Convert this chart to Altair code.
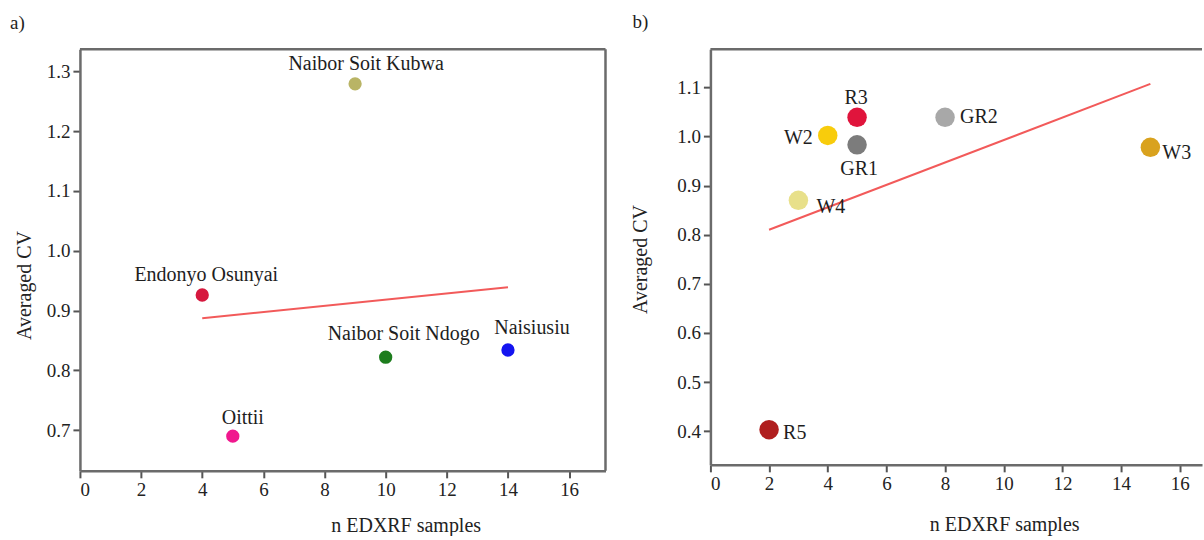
import altair as alt
import pandas as pd

# ---------------- data ----------------
sites_a = ["Naibor Soit Kubwa", "Endonyo Osunyai", "Naibor Soit Ndogo", "Naisiusiu", "Oittii"]
n_a = [9, 4, 10, 14, 5]
cv_a = [1.279, 0.926, 0.822, 0.834, 0.690]
trend_a_n = [4, 14]
trend_a_cv = [0.887, 0.939]

sites_b = ["R3", "W2", "GR1", "GR2", "W3", "W4", "R5"]
n_b = [5, 4, 5, 8, 15, 3, 2]
cv_b = [1.039, 1.002, 0.983, 1.039, 0.978, 0.870, 0.403]
trend_b_n = [2, 15]
trend_b_cv = [0.810, 1.107]

x_ticks = [0, 2, 4, 6, 8, 10, 12, 14, 16]
y_ticks_a = [0.7, 0.8, 0.9, 1.0, 1.1, 1.2, 1.3]
y_ticks_b = [0.4, 0.5, 0.6, 0.7, 0.8, 0.9, 1.0, 1.1]

# ---------------- styles ----------------
colors_a = ["#b9b465", "#d6183e", "#1d7d1d", "#1414f0", "#f0188e"]
colors_b = ["#e0143c", "#f8cc0c", "#7c7c7c", "#a8a8a8", "#d9a21e", "#e8e08a", "#b01e1e"]
# label offsets (dx, dy, align)
offsets_a = {
    "Naibor Soit Kubwa": (11, -20, "center"),
    "Endonyo Osunyai": (4, -20, "center"),
    "Naibor Soit Ndogo": (18, -23, "center"),
    "Naisiusiu": (24, -22, "center"),
    "Oittii": (10, -18, "center"),
}
offsets_b = {
    "R3": (-1, -19, "center"),
    "W2": (-15, 3, "right"),
    "GR1": (2, 24, "center"),
    "GR2": (15, 0, "left"),
    "W3": (12, 6, "left"),
    "W4": (18, 7, "left"),
    "R5": (14, 3, "left"),
}

FONT = "'Liberation Serif', 'DejaVu Serif', serif"
FRAME = "#6b6b6b"
TXT = "#1e1e1e"
TREND = "#f25a5a"


def panel(sites, n, cv, colors, tn, tcv, xdom, ydom, yticks, w, h, size,
          offsets, tag, tag_xy, ytitle_xy, xtitle_xy, right_border):
    df = pd.DataFrame({"site": sites, "n": n, "cv": cv})
    tr = pd.DataFrame({"n": tn, "cv": tcv})
    one = pd.DataFrame({"k": [0]})
    xs = alt.Scale(domain=xdom, nice=False, zero=False)
    ys = alt.Scale(domain=ydom, nice=False, zero=False)
    xax = alt.Axis(values=x_ticks, title="n EDXRF samples",
                   titleX=xtitle_xy[0], titleY=xtitle_xy[1],
                   titleAlign="center", titleBaseline="middle", titleAngle=0)
    yax = alt.Axis(values=yticks, format=".1f", title="Averaged CV",
                   titleX=ytitle_xy[0], titleY=ytitle_xy[1],
                   titleAlign="center", titleBaseline="middle", titleAngle=-90)
    X = alt.X("n:Q", scale=xs, axis=xax)
    Y = alt.Y("cv:Q", scale=ys, axis=yax)

    trend = alt.Chart(tr).mark_line(color=TREND, strokeWidth=2).encode(x=X, y=Y)
    pts = alt.Chart(df).mark_circle(size=size, opacity=1).encode(
        x=X, y=Y,
        color=alt.Color("site:N", scale=alt.Scale(domain=sites, range=colors), legend=None),
    )
    layers = [trend, pts]
    for s in sites:
        dx, dy, al = offsets[s]
        layers.append(
            alt.Chart(df).transform_filter(alt.datum.site == s)
            .mark_text(dx=dx, dy=dy, align=al, baseline="middle", font=FONT,
                       fontSize=20, color=TXT)
            .encode(x=X, y=Y, text="site:N")
        )
    layers.append(
        alt.Chart(one).mark_rule(color=FRAME, strokeWidth=2.5)
        .encode(x=alt.value(0), x2=alt.value("width"), y=alt.value(0))
    )
    if right_border:
        layers.append(
            alt.Chart(one).mark_rule(color=FRAME, strokeWidth=2.5)
            .encode(x=alt.value("width"), y=alt.value(0), y2=alt.value("height"))
        )
    layers.append(
        alt.Chart(one).mark_text(text=tag, align="left", baseline="middle",
                                 font=FONT, fontSize=19, color=TXT)
        .encode(x=alt.value(tag_xy[0]), y=alt.value(tag_xy[1]))
    )
    return alt.layer(*layers).properties(width=w, height=h)


panel_a = panel(sites_a, n_a, cv_a, colors_a, trend_a_n, trend_a_cv,
                [0, 17.19], [0.632, 1.337], y_ticks_a, 526, 422, 177,
                offsets_a, "a)", (-70, -26), (-55, 236), (326, 55), True)
panel_b = panel(sites_b, n_b, cv_b, colors_b, trend_b_n, trend_b_cv,
                [0, 16.76], [0.3315, 1.1777], y_ticks_b, 492, 416, 380,
                offsets_b, "b)", (-78, -26.7), (-70, 210), (294, 60), False)

chart = (
    alt.hconcat(panel_a, panel_b, spacing=23)
    .resolve_scale(color="independent", x="independent", y="independent")
    .properties(padding={"left": 10, "top": 13, "right": 0, "bottom": 0})
    .configure_view(stroke=None)
    .configure_axis(
        grid=False,
        domainColor=FRAME, domainWidth=2.5,
        tickColor="#555555", tickWidth=2, tickSize=7,
        labelFont=FONT, labelFontSize=19, labelColor="#222222", labelPadding=3,
        titleFont=FONT, titleFontSize=20, titleFontWeight="normal", titleColor="#222222",
    )
)

chart.save("out.html", embed_options={"renderer": "svg", "actions": False})
